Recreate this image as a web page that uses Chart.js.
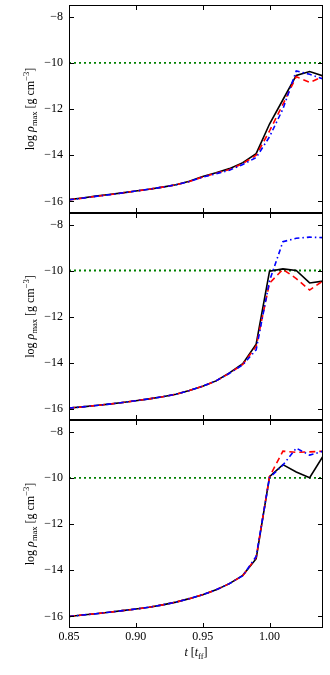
<!DOCTYPE html>
<html>
<head>
<meta charset="utf-8">
<script src="https://cdn.jsdelivr.net/npm/chart.js@4/dist/chart.umd.min.js"></script>
<style>
    html, body { margin: 0; padding: 0; background: #fff; }
    #wrap { position: relative; width: 330px; height: 675px; }
    canvas { position: absolute; left: 0; }
</style>
</head>
<body>
<div id="wrap">
    <canvas id="panel1" width="330" height="213" style="top:0px"></canvas>
    <canvas id="panel2" width="330" height="207" style="top:213px"></canvas>
    <canvas id="panel3" width="330" height="255" style="top:420px"></canvas>
</div>
<script>
// time in units of free-fall time
const time = [0.85, 0.86, 0.87, 0.88, 0.89, 0.90, 0.91, 0.92, 0.93, 0.94,
              0.95, 0.96, 0.97, 0.98, 0.99, 1.00, 1.01, 1.02, 1.03, 1.04];

// top panel
const p1Solid  = [-15.92, -15.85, -15.77, -15.70, -15.63, -15.55, -15.47, -15.38, -15.28, -15.13,
                  -14.92, -14.76, -14.58, -14.32, -13.93, -12.65, -11.60, -10.55, -10.38, -10.57];
const p1Dashed = [-15.93, -15.86, -15.78, -15.71, -15.63, -15.55, -15.47, -15.38, -15.28, -15.14,
                  -14.94, -14.78, -14.62, -14.36, -14.00, -12.95, -11.80, -10.60, -10.85, -10.60];
const p1DashDot = [-15.93, -15.86, -15.78, -15.71, -15.63, -15.55, -15.47, -15.38, -15.28, -15.14,
                   -14.95, -14.80, -14.65, -14.40, -14.10, -13.20, -12.00, -10.35, -10.50, -10.70];

// middle panel
const p2Solid  = [-15.98, -15.93, -15.87, -15.81, -15.74, -15.66, -15.58, -15.49, -15.38, -15.22,
                  -15.03, -14.80, -14.45, -14.05, -13.20, -10.03, -9.93, -10.00, -10.54, -10.46];
const p2Dashed = [-15.98, -15.93, -15.87, -15.81, -15.74, -15.66, -15.58, -15.49, -15.38, -15.22,
                  -15.03, -14.80, -14.47, -14.08, -13.30, -10.55, -9.95, -10.35, -10.85, -10.45];
const p2DashDot = [-15.98, -15.93, -15.87, -15.81, -15.74, -15.66, -15.58, -15.49, -15.38, -15.22,
                   -15.03, -14.80, -14.47, -14.10, -13.45, -10.45, -8.75, -8.60, -8.55, -8.57];

// bottom panel
const p3Solid  = [-16.00, -15.94, -15.88, -15.82, -15.75, -15.68, -15.60, -15.50, -15.38, -15.23,
                  -15.06, -14.85, -14.58, -14.22, -13.50, -9.95, -9.43, -9.75, -10.00, -9.07];
const p3Dashed = [-16.00, -15.94, -15.88, -15.82, -15.75, -15.68, -15.60, -15.50, -15.38, -15.23,
                  -15.06, -14.85, -14.58, -14.24, -13.45, -9.95, -8.85, -8.90, -8.88, -8.85];
const p3DashDot = [-16.00, -15.94, -15.88, -15.82, -15.75, -15.68, -15.60, -15.50, -15.38, -15.23,
                   -15.06, -14.85, -14.58, -14.24, -13.40, -10.00, -9.45, -8.72, -9.02, -8.85];

const threshold = -10;
const yTicks = [-16, -14, -12, -10, -8];
const xTicks = [0.85, 0.90, 0.95, 1.00];
const xMin = 0.85, xMax = 1.04;
const yMin = -16.5, yMax = -7.5;

const serif = '"Liberation Serif", "DejaVu Serif", serif';

function pairs(vals) {
    return time.map((t, i) => ({x: t, y: vals[i]}));
}

function minus(v) {
    return v < 0 ? '\u2212' + Math.abs(v) : String(v);
}

// draw a run of text pieces [text, size, italic, shift] centred at 0
function drawPieces(ctx, pieces) {
    let total = 0;
    pieces.forEach(p => {
        ctx.font = (p[2] ? 'italic ' : '') + p[1] + 'px ' + serif;
        p.w = ctx.measureText(p[0]).width;
        total += p.w;
    });
    let x = -total / 2;
    pieces.forEach(p => {
        ctx.font = (p[2] ? 'italic ' : '') + p[1] + 'px ' + serif;
        ctx.fillText(p[0], x, p[3]);
        x += p.w;
    });
}

const framePlugin = {
    id: 'frame',
    afterDraw(chart, args, opts) {
        const ctx = chart.ctx;
        const a = chart.chartArea;
        const xs = chart.scales.x, ys = chart.scales.y;
        ctx.save();
        ctx.strokeStyle = '#000';
        ctx.lineWidth = 1;
        ctx.strokeRect(a.left + 0.5, a.top + 0.5, a.right - a.left - 1, a.bottom - a.top - 1);

        // inward ticks
        const len = 5;
        ctx.beginPath();
        yTicks.forEach(v => {
            const y = Math.round(ys.getPixelForValue(v)) + 0.5;
            ctx.moveTo(a.left, y); ctx.lineTo(a.left + len, y);
            ctx.moveTo(a.right, y); ctx.lineTo(a.right - len, y);
        });
        xTicks.forEach(v => {
            const x = Math.round(xs.getPixelForValue(v)) + 0.5;
            ctx.moveTo(x, a.top); ctx.lineTo(x, a.top + len);
            ctx.moveTo(x, a.bottom); ctx.lineTo(x, a.bottom - len);
        });
        ctx.stroke();

        // y title: log rho_max [g cm^-3]
        ctx.fillStyle = '#000';
        ctx.textBaseline = 'alphabetic';
        ctx.save();
        ctx.translate(34, (a.top + a.bottom) / 2);
        ctx.rotate(-Math.PI / 2);
        drawPieces(ctx, [
            ['log ', 12, false, 0],
            ['\u03c1', 12, true, 0],
            ['max', 8.5, false, 2.5],
            [' [g cm', 12, false, 0],
            ['\u22123', 8.5, false, -5],
            [']', 12, false, 0]
        ]);
        ctx.restore();

        // x title: t [t_ff]
        if (opts.xTitle) {
            ctx.save();
            ctx.translate((a.left + a.right) / 2, a.bottom + 28);
            drawPieces(ctx, [
                ['t', 12, true, 0],
                [' [', 12, false, 0],
                ['t', 12, true, 0],
                ['ff', 8.5, false, 2.5],
                [']', 12, false, 0]
            ]);
            ctx.restore();
        }
        ctx.restore();
    }
};

function makePanel(id, solid, dashed, dashDot, bottom) {
    const ctx = document.getElementById(id).getContext('2d');
    return new Chart(ctx, {
        type: 'line',
        data: {
            datasets: [
                {data: pairs(dashDot), borderColor: '#0000ff', borderWidth: 1.6, borderDash: [5, 3, 1.5, 3]},
                {data: pairs(dashed), borderColor: '#ff0000', borderWidth: 1.6, borderDash: [6, 4]},
                {data: pairs(solid), borderColor: '#000000', borderWidth: 1.6},
                {data: [{x: xMin, y: threshold}, {x: xMax, y: threshold}],
                 borderColor: '#008000', borderWidth: 1.8, borderDash: [2, 3]}
            ]
        },
        options: {
            responsive: false,
            animation: false,
            events: [],
            elements: {point: {radius: 0}, line: {tension: 0, fill: false}},
            layout: {padding: {top: id === 'panel1' ? 5 : 0, right: 7, left: 0, bottom: 0}},
            plugins: {legend: {display: false}, tooltip: {enabled: false}, frame: {xTitle: bottom}},
            scales: {
                x: {
                    type: 'linear',
                    min: xMin,
                    max: xMax,
                    display: bottom,
                    grid: {display: false, drawTicks: false},
                    border: {display: false},
                    afterBuildTicks: s => { s.ticks = xTicks.map(v => ({value: v})); },
                    afterFit: s => {
                        s.height = bottom ? 47 : 0;
                        s.paddingLeft = 0;
                        s.paddingRight = 0;
                    },
                    ticks: {
                        autoSkip: false,
                        maxRotation: 0,
                        padding: 2,
                        color: '#000',
                        font: {family: serif, size: 12},
                        callback: v => v.toFixed(2)
                    }
                },
                y: {
                    min: yMin,
                    max: yMax,
                    grid: {display: false, drawTicks: false},
                    border: {display: false},
                    afterBuildTicks: s => { s.ticks = yTicks.map(v => ({value: v})); },
                    afterFit: s => {
                        s.width = 69;
                        s.paddingTop = 0;
                        s.paddingBottom = 0;
                    },
                    ticks: {
                        padding: 6,
                        color: '#000',
                        font: {family: serif, size: 12},
                        callback: v => minus(v)
                    }
                }
            }
        },
        plugins: [framePlugin]
    });
}

makePanel('panel1', p1Solid, p1Dashed, p1DashDot, false);
makePanel('panel2', p2Solid, p2Dashed, p2DashDot, false);
makePanel('panel3', p3Solid, p3Dashed, p3DashDot, true);
</script>
</body>
</html>
